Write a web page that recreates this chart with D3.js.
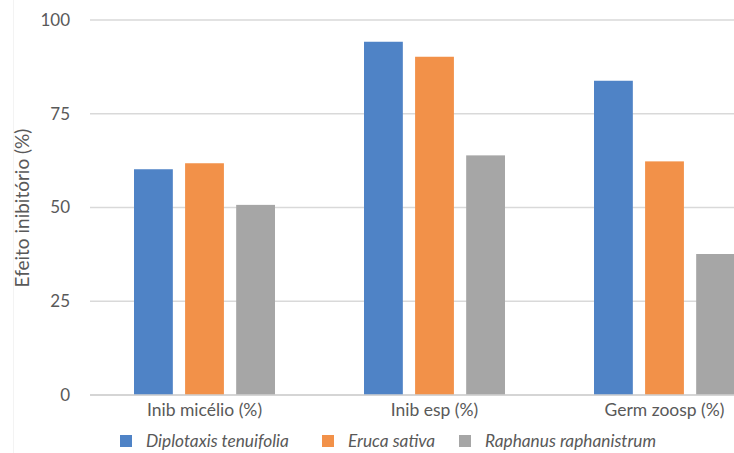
<!DOCTYPE html>
<html><head><meta charset="utf-8">
<script src="https://cdn.jsdelivr.net/npm/d3@7"></script>
<style>body{margin:0;background:#fff;}svg{display:block;font-family:Lato,"Open Sans",sans-serif;}</style>
</head><body>
<svg id="c" width="734" height="453"></svg>
<script>
const categories = ["Inib micélio (%)", "Inib esp (%)", "Germ zoosp (%)"];
const seriesNames = ["Diplotaxis tenuifolia", "Eruca sativa", "Raphanus raphanistrum"];
const diplotaxis = [60.2, 94.2, 83.8];
const eruca = [61.8, 90.2, 62.3];
const raphanus = [50.7, 63.9, 37.6];
const yTicks = [0, 25, 50, 75, 100];
const colors = ["#4f83c6", "#f29149", "#a6a6a6"];
const seriesValues = [diplotaxis, eruca, raphanus];

const svg = d3.select("#c");
const y = d3.scaleLinear().domain([0, 100]).range([395, 20]);
const x0 = d3.scaleBand().domain(categories).range([89.5, 779.5]).paddingInner(0.387).paddingOuter(0.1935);
const x1 = d3.scaleBand().domain(seriesNames).range([0, x0.bandwidth()]).paddingInner(0.24);

// faint border
svg.append("line").attr("x1", 13.5).attr("x2", 13.5).attr("y1", 0).attr("y2", 453).attr("stroke", "#f3f3f3");

// gridlines
svg.append("g").selectAll("line").data(yTicks).join("line")
  .attr("x1", 90).attr("x2", 734)
  .attr("y1", d => y(d)).attr("y2", d => y(d))
  .attr("stroke", "#d9d9d9").attr("stroke-width", 1.6);

// y labels
svg.append("g").selectAll("text").data(yTicks).join("text")
  .attr("x", 70).attr("y", d => y(d)).attr("dy", "0.35em")
  .attr("text-anchor", "end").attr("font-size", 17).attr("fill", "#595959")
  .text(d => d);

// y title
svg.append("text").attr("transform", "translate(22,208) rotate(-90)")
  .attr("text-anchor", "middle").attr("dy", "0.35em")
  .attr("font-size", 19).attr("fill", "#595959").text("Efeito inibitório (%)");

// bars
const g = svg.append("g");
categories.forEach((c, i) => {
  seriesNames.forEach((s, j) => {
    const v = seriesValues[j][i];
    g.append("rect")
      .attr("x", x0(c) + x1(s)).attr("width", x1.bandwidth())
      .attr("y", y(v)).attr("height", y(0) - y(v))
      .attr("fill", colors[j]);
  });
});

// baseline
svg.append("line").attr("x1", 90).attr("x2", 734).attr("y1", y(0)).attr("y2", y(0))
  .attr("stroke", "#d0d0d0").attr("stroke-width", 1.6);

// x labels
svg.append("g").selectAll("text").data(categories).join("text")
  .attr("x", d => x0(d) + x0.bandwidth() / 2).attr("y", 410).attr("dy", "0.35em")
  .attr("text-anchor", "middle").attr("font-size", 17.5).attr("fill", "#595959")
  .text(d => d);

// legend
const legendX = [120, 322, 459];
const lg = svg.append("g");
seriesNames.forEach((s, j) => {
  lg.append("rect").attr("x", legendX[j]).attr("y", 435).attr("width", 12).attr("height", 12).attr("fill", colors[j]);
  lg.append("text").attr("x", legendX[j] + 26).attr("y", 441).attr("dy", "0.35em")
    .attr("font-size", 17.3).attr("font-style", "italic").attr("fill", "#595959").text(s);
});
</script>
</body></html>
